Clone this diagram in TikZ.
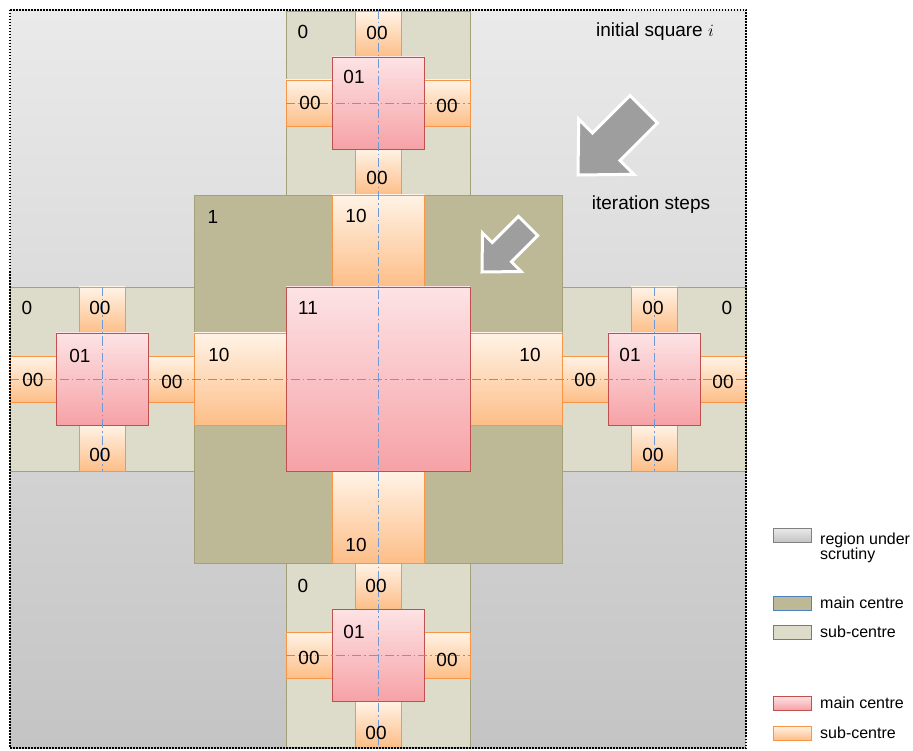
\documentclass[tikz,border=0pt]{standalone}
\usepackage{fontspec}
\setmainfont{Liberation Sans}
\definecolor{regtop}{HTML}{EAEAEA}
\definecolor{regbot}{HTML}{C4C4C4}
\definecolor{mainkhaki}{HTML}{BDB997}
\definecolor{subkhaki}{HTML}{DDDBC9}
\definecolor{olivezero}{HTML}{A3A07A}
\definecolor{pinktop}{HTML}{FDE3E5}
\definecolor{pinkbot}{HTML}{F6A2A6}
\definecolor{pinkline}{HTML}{C0504D}
\definecolor{ortop}{HTML}{FFF3E6}
\definecolor{orbot}{HTML}{FDBE88}
\definecolor{orline}{HTML}{F79646}
\definecolor{axisblue}{HTML}{6E9BD8}
\definecolor{arrowgray}{HTML}{9E9E9E}
\definecolor{legblue}{HTML}{4F81BD}
\newcommand\subtile[2]{%
  \path[subc] (#1-92,#2-92) rectangle (#1+92,#2+92);
  \path[orbox] (#1-23,#2-92) rectangle (#1+23,#2-46);
  \path[orbox] (#1-23,#2+46) rectangle (#1+23,#2+92);
  \path[orbox] (#1-92,#2-23) rectangle (#1-46,#2+23);
  \path[orbox] (#1+46,#2-23) rectangle (#1+92,#2+23);
  \path[pinkbox] (#1-46,#2-46) rectangle (#1+46,#2+46);
}
\newcommand\grayarrow[3]{%
  \begin{scope}[shift={(#1,#2)}, scale=#3]
    \path[garrow] (0,0) -- (0.7,-55.9) -- (14.5,-42.1) -- (52,-79.6) -- (79.6,-52) -- (42.1,-14.5) -- (55.9,-0.7) -- cycle;
  \end{scope}
}
\begin{document}
\begin{tikzpicture}[x=1pt,y=-1pt,
  lbl/.style={font=\fontsize{19}{22}\selectfont, inner sep=0pt, text=black},
  leg/.style={font=\fontsize{16}{15}\selectfont, inner sep=0pt, anchor=west, align=left},
  subc/.style={fill=subkhaki, draw=olivezero, line width=0.8pt},
  mainc/.style={fill=mainkhaki, draw=olivezero, line width=0.8pt},
  pinkbox/.style={top color=pinktop, bottom color=pinkbot, draw=pinkline, line width=0.8pt},
  orbox/.style={top color=ortop, bottom color=orbot, draw=orline, line width=0.8pt},
  axis/.style={draw=axisblue, line width=0.7pt, dash pattern=on 9pt off 3pt on 1.5pt off 3pt},
  garrow/.style={fill=arrowgray, draw=white, line width=3pt, line join=miter}
]
\useasboundingbox (0,0) rectangle (913,751);
\fill[white] (0,0) rectangle (913,751);
% region under scrutiny
\path[top color=regtop, bottom color=regbot] (10,10) rectangle (746,748);
% sub-centre tiles
\subtile{378}{103}
\subtile{102}{379}
\subtile{654}{379}
\subtile{378}{655}
% main centre
\path[mainc] (194,195) rectangle (562,563);
\path[orbox] (332,195) rectangle (424,287);
\path[orbox] (332,471) rectangle (424,563);
\path[orbox] (194,333) rectangle (286,425);
\path[orbox] (470,333) rectangle (562,425);
\path[pinkbox] (286,287) rectangle (470,471);
% axes
\draw[axis] (10,379) -- (746,379);
\draw[axis] (378,10) -- (378,748);
\draw[axis] (286,103) -- (470,103);
\draw[axis] (286,655) -- (470,655);
\draw[axis] (102,287) -- (102,471);
\draw[axis] (654,287) -- (654,471);
% arrows
\grayarrow{578}{175}{1}
\grayarrow{482}{272}{0.7}
% outer dotted border
\draw[line width=1.5pt, dash pattern=on 1.5pt off 1.5pt] (10,10) rectangle (746,748);
% labels top tile
\node[lbl] (t0) at (303,32) {0};
\node[lbl] (t01) at (354,77) {01};
\node[lbl] (tN) at (377,33) {00};
\node[lbl] (tS) at (377,178) {00};
\node[lbl] (tW) at (310,103) {00};
\node[lbl] (tE) at (447,106) {00};
% left tile
\node[lbl] (l0) at (27,308) {0};
\node[lbl] (l01) at (80,356) {01};
\node[lbl] (lN) at (100,308) {00};
\node[lbl] (lS) at (100,455) {00};
\node[lbl] (lW) at (33,380) {00};
\node[lbl] (lE) at (172,382) {00};
% right tile
\node[lbl] (r0) at (727,308) {0};
\node[lbl] (r01) at (630,355) {01};
\node[lbl] (rN) at (653,308) {00};
\node[lbl] (rS) at (653,455) {00};
\node[lbl] (rW) at (585,380) {00};
\node[lbl] (rE) at (723,382) {00};
% bottom tile
\node[lbl] (b0) at (303,586) {0};
\node[lbl] (b01) at (354,632) {01};
\node[lbl] (bN) at (376,586) {00};
\node[lbl] (bS) at (376,733) {00};
\node[lbl] (bW) at (309,658) {00};
\node[lbl] (bE) at (447,660) {00};
% main centre
\node[lbl] (m1) at (213,217) {1};
\node[lbl] (m11) at (308,308) {11};
\node[lbl] (mN) at (356,216) {10};
\node[lbl] (mW) at (219,355) {10};
\node[lbl] (mE) at (530,355) {10};
\node[lbl] (mS) at (356,545) {10};
% texts
\node[lbl] (init) at (655,32) {initial square $i$};
\node[lbl] (iter) at (651,205) {iteration steps};
% legend
\path[top color=regtop, bottom color=regbot, draw=gray, line width=0.8pt] (773,528) rectangle (811,542);
\path[fill=mainkhaki, draw=legblue, line width=0.8pt] (773,596) rectangle (811,610);
\path[fill=subkhaki, draw=legblue, line width=0.8pt] (773,625) rectangle (811,639);
\path[pinkbox] (773,696) rectangle (811,710);
\path[orbox] (773,726) rectangle (811,740);
\node[leg] (lgreg) at (820,548) {region under\\scrutiny};
\node[leg] (lgmk) at (820,603) {main centre};
\node[leg] (lgsk) at (820,632) {sub-centre};
\node[leg] (lgpk) at (820,703) {main centre};
\node[leg] (lgok) at (820,733) {sub-centre};
\end{tikzpicture}
\end{document}
